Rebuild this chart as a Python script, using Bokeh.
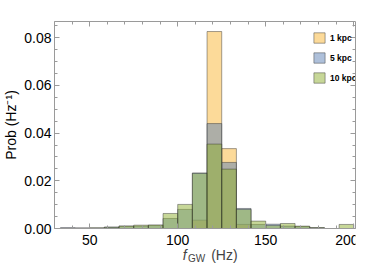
from bokeh.plotting import figure
from bokeh.models import (ColumnDataSource, Range1d, LinearAxis, SingleIntervalTicker,
                          Legend, LegendItem, Label, PrintfTickFormatter, CustomJSTickFormatter)
from bokeh.embed import file_html
from bokeh.resources import INLINE

# ---- data (probability density, Hz^-1), bins of 25/3 Hz from 33.33 to 200 Hz ----
bin_start = 100.0 - 8 * 25.0 / 3.0
bin_width = 25.0 / 3.0
n_bins = 20
edges = [bin_start + i * bin_width for i in range(n_bins + 1)]

series_labels = ["1 kpc", "5 kpc", "10 kpc"]
prob_1kpc = [0, 0, 0, 0, 0, 0, 0, 0, 0, 0.0035, 0.0826, 0.0335, 0.0017, 0, 0, 0, 0, 0, 0, 0]
prob_5kpc = [0.0003, 0.0002, 0.0002, 0.0006, 0.0009, 0.0010, 0.0013, 0.0042, 0.0080, 0.0233,
             0.0440, 0.0277, 0.0084, 0.0017, 0.0018, 0.0010, 0.0008, 0.0003, 0, 0]
prob_10kpc = [0.0002, 0.0002, 0.0003, 0.0005, 0.0011, 0.0014, 0.0015, 0.0063, 0.0101, 0.0231,
              0.0354, 0.0249, 0.0080, 0.0031, 0.0013, 0.0021, 0.0010, 0.0004, 0, 0.0017]
colors = ["#FAB533", "#5E81B5", "#8FB032"]

FONT = "Liberation Sans"
Y_TOP = 0.0868
PX = Y_TOP / 207.0          # data units per pixel on the y axis
# frame extends below y=0 so that the x-axis title (with subscript) is not clipped
Y_BOTTOM = -35.0 * PX

p = figure(width=358, height=263, output_backend="svg", toolbar_location=None,
           x_range=Range1d(30, 201), y_range=Range1d(Y_BOTTOM, Y_TOP),
           min_border_left=47, min_border_right=3, min_border_top=21, min_border_bottom=0,
           x_axis_location=None, y_axis_location=None)
p.xgrid.visible = False
p.ygrid.visible = False
p.outline_line_color = None
p.background_fill_color = "white"
p.border_fill_color = "white"

items = []
for lab, vals, col in zip(series_labels, [prob_1kpc, prob_5kpc, prob_10kpc], colors):
    rows = [(edges[i], edges[i + 1], v) for i, v in enumerate(vals) if v > 0]
    src = ColumnDataSource(dict(left=[r[0] for r in rows], right=[r[1] for r in rows],
                                top=[r[2] for r in rows]))
    r = p.quad(left="left", right="right", bottom=0, top="top", source=src,
               fill_color=col, fill_alpha=0.5, line_color="#333333", line_alpha=0.45,
               line_width=1)
    items.append(LegendItem(label=lab, renderers=[r]))

FRAME = "#9a9a9a"
blank = CustomJSTickFormatter(code="return ''")

def style_axis(ax, labels=True):
    ax.axis_line_color = FRAME
    ax.major_tick_line_color = FRAME
    ax.minor_tick_line_color = FRAME
    ax.major_tick_in = 5
    ax.major_tick_out = 0
    ax.minor_tick_in = 3
    ax.minor_tick_out = 0
    if labels:
        ax.major_label_text_font = FONT
        ax.major_label_text_font_size = "14px"
        ax.major_label_text_color = "black"
    else:
        ax.formatter = blank
        ax.major_label_standoff = 0

xb = LinearAxis(ticker=SingleIntervalTicker(interval=50, num_minor_ticks=5), fixed_location=0)
style_axis(xb)
xb.major_label_standoff = 6
p.add_layout(xb, "below")

xt = LinearAxis(ticker=SingleIntervalTicker(interval=50, num_minor_ticks=5))
style_axis(xt, labels=False)
p.add_layout(xt, "above")

yl = LinearAxis(ticker=SingleIntervalTicker(interval=0.02, num_minor_ticks=4),
                formatter=PrintfTickFormatter(format="%.2f"), bounds=(0, Y_TOP))
style_axis(yl)
yl.major_label_standoff = 3
# leading no-break spaces centre the title on the 0..Y_TOP part of the taller frame
yl.axis_label = "\u00a0" * 9 + "Prob (Hz\u207b\u00b9)"
yl.axis_label_text_font = FONT
yl.axis_label_text_font_style = "normal"
yl.axis_label_text_font_size = "14px"
yl.axis_label_text_color = "black"
yl.axis_label_standoff = 2
p.add_layout(yl, "left")

yr = LinearAxis(ticker=SingleIntervalTicker(interval=0.02, num_minor_ticks=4), bounds=(0, Y_TOP))
style_axis(yr, labels=False)
p.add_layout(yr, "right")

# x axis title with subscript, below the axis (top of each text box, data units in y)
p.add_layout(Label(x=128.3, y=-18.3 * PX, x_units="screen", text="f",
                   text_font=FONT, text_font_size="14px", text_font_style="italic",
                   text_baseline="top"))
p.add_layout(Label(x=133.5, y=-24.5 * PX, x_units="screen", text="GW",
                   text_font=FONT, text_font_size="10px",
                   text_baseline="top"))
p.add_layout(Label(x=156.7, y=-18.3 * PX, x_units="screen", text="(Hz)",
                   text_font=FONT, text_font_size="14px",
                   text_baseline="top"))

legend = Legend(items=items, location=(258, 179), orientation="vertical",
                glyph_width=14, glyph_height=13, label_height=13, spacing=7,
                label_standoff=4, padding=0, margin=0,
                border_line_color=None, background_fill_alpha=0,
                label_text_font=FONT, label_text_font_size="8.5px",
                label_text_font_style="bold", label_text_color="black")
p.add_layout(legend, "center")

open("out.html", "w").write(file_html(p, INLINE))
